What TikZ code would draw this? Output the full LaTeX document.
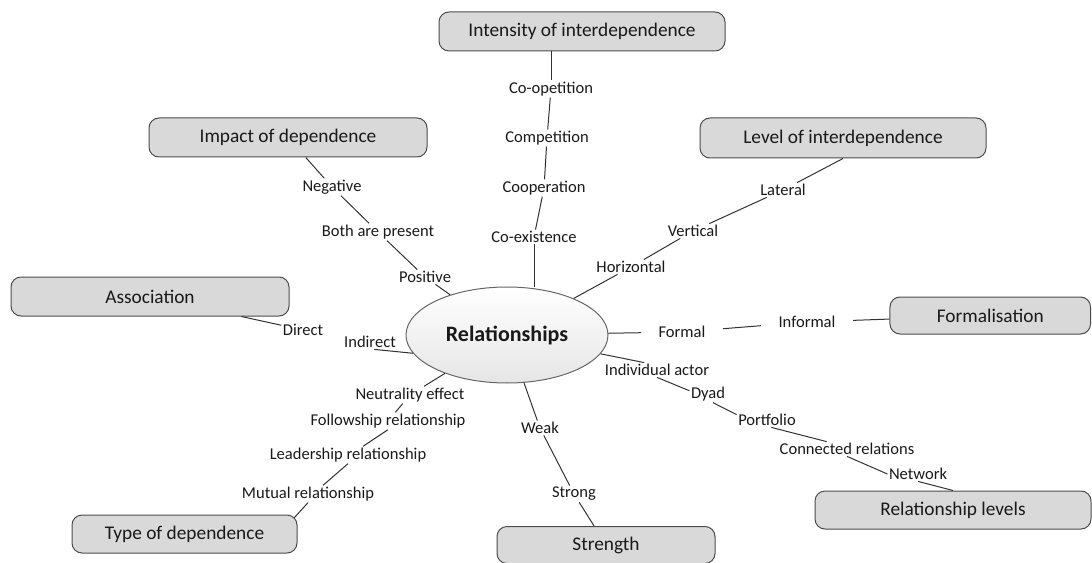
\documentclass[tikz,border=0pt]{standalone}
\usepackage{fontspec}
\setmainfont{Carlito}
\usetikzlibrary{shapes.geometric}
\begin{document}
\begin{tikzpicture}[x=0.75pt,y=-0.75pt,
  topic/.style={draw=black!70, fill=black!15, rounded corners=7.5pt, line width=0.75pt,
    inner sep=0pt, font=\fontsize{14.5}{17}\selectfont, text=black!90},
  item/.style={inner sep=1pt, font=\fontsize{12.4}{15}\selectfont, text=black!90},
  wide/.style={inner xsep=13pt},
  link/.style={draw=black!80, line width=0.75pt},
]
\useasboundingbox (0,0) rectangle (1092,563);

% central concept
\node[ellipse, draw=black!60, line width=0.75pt, top color=white, bottom color=black!10,
  minimum width=151.5pt, minimum height=72pt, inner sep=0pt,
  font=\fontsize{16.5}{20}\selectfont\bfseries, text=black!90] (rel) at (507,335) {Relationships};

% dimension boxes
\node[topic, minimum width=214.5pt, minimum height=29.25pt] (int) at (582,31.5) {Intensity of interdependence};
\node[topic, minimum width=208.5pt, minimum height=29.25pt] (imp) at (288,137.5) {Impact of dependence};
\node[topic, minimum width=214.5pt, minimum height=30pt] (lvl) at (843,138) {Level of interdependence};
\node[topic, minimum width=208.5pt, minimum height=29.25pt] (assoc) at (150,296.5) {Association};
\node[topic, minimum width=150.4pt, minimum height=27.75pt] (form) at (990.25,315.5) {Formalisation};
\node[topic, minimum width=207pt, minimum height=28.5pt] (rl) at (953,510) {Relationship levels};
\node[topic, minimum width=168.75pt, minimum height=28.5pt] (typ) at (184.5,534) {Type of dependence};
\node[topic, minimum width=163.5pt, minimum height=27.75pt] (str) at (606,545) {Strength};

% values along each dimension
\node[item] (co1) at (551,89) {Co-opetition};
\node[item] (co2) at (547,138) {Competition};
\node[item] (co3) at (544,188) {Cooperation};
\node[item] (co4) at (534,237) {Co-existence};

\node[item] (neg) at (332,187) {Negative};
\node[item] (both) at (378,232) {Both are present};
\node[item] (pos) at (425,277) {Positive};

\node[item] (lat) at (783,190) {Lateral};
\node[item] (ver) at (693,231) {Vertical};
\node[item] (hor) at (631,267) {Horizontal};

\node[item] (dir) at (303,330) {Direct};
\node[item] (ind) at (370,342) {Indirect};

\node[item, wide] (formal) at (682,332) {Formal};
\node[item, wide] (informal) at (807,322) {Informal};

\node[item] (ia) at (657,370) {Individual actor};
\node[item] (dyad) at (708,394) {Dyad};
\node[item] (port) at (767,420) {Portfolio};
\node[item] (conn) at (847,449) {Connected relations};
\node[item] (net) at (918,474) {Network};

\node[item] (neu) at (410,395) {Neutrality effect};
\node[item] (fol) at (388,421) {Followship relationship};
\node[item] (lea) at (348,455) {Leadership relationship};
\node[item] (mut) at (308,494) {Mutual relationship};

\node[item] (weak) at (540,428) {Weak};
\node[item] (strong) at (574,494) {Strong};

% intensity of interdependence
\draw[link] (co1 |- int.south) -- (co1);
\draw[link] (co1) -- (co2);
\draw[link] (co2) -- (co3);
\draw[link] (co3) -- (co4);
\draw[link] (co4) -- (co4 |- rel.north);

% impact of dependence
\draw[link] (imp) -- (neg);
\draw[link] (neg) -- (both);
\draw[link] (both) -- (pos);
\draw[link] (pos) -- (rel);

% level of interdependence
\draw[link] (lvl.south) -- (lat);
\draw[link] (lat) -- (ver);
\draw[link] (ver) -- (hor);
\draw[link] (hor) -- (rel);

% association
\draw[link] (assoc) -- (dir);
\draw[link] (ind.-60) -- (rel.191);

% formalisation
\draw[link] (rel) -- (formal);
\draw[link] (formal) -- (informal);
\draw[link] (informal) -- (form);

% relationship levels
\draw[link] (rel) -- (ia.150);
\draw[link] (ia.south) -- (dyad.170);
\draw[link] (dyad.-60) -- (port.170);
\draw[link] (port.-60) -- (conn.160);
\draw[link] (conn.south) -- (net.west);
\draw[link] (net.south) -- (rl.north);

% type of dependence
\draw[link] (rel) -- (neu);
\draw[link] (neu) -- (fol);
\draw[link] (fol.south) -- (lea.30);
\draw[link] (lea.south) -- (mut.30);
\draw[link] (mut.south) -- ([shift={(-2.5pt,-2.5pt)}]typ.north east);

% strength
\draw[link] (rel) -- (weak);
\draw[link] (weak) -- (strong);
\draw[link] (strong) -- (str);
\end{tikzpicture}
\end{document}
